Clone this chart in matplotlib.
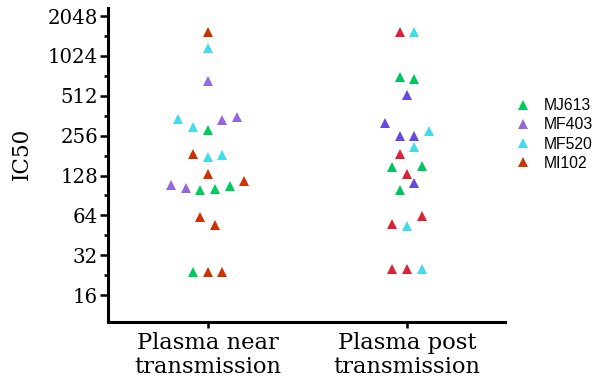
import matplotlib
matplotlib.use("Agg")
import matplotlib.pyplot as plt
from matplotlib.lines import Line2D
from matplotlib.ticker import FixedLocator, NullFormatter

# Categories and strains
groups = ["Plasma near\ntransmission", "Plasma post\ntransmission"]
strains = ["MJ613", "MF403", "MF520", "MI102"]

# IC50 values, per group and strain
near_MJ613 = [284, 100, 102, 107, 24]
near_MF403 = [662, 338, 353, 109, 103]
near_MF520 = [1177, 343, 296, 176, 183]
near_MI102 = [1553, 185, 131, 116, 62, 54, 24, 24]

post_MJ613 = [705, 684, 149, 151, 99]
post_MF403 = [522, 320, 255, 255, 113]
post_MF520 = [1553, 276, 209, 53, 25]
post_MI102 = [1553, 187, 132, 63, 55, 25, 25]

# swarm slot of each point (multiples of the swarm step)
near_MJ613_slot = [0, -1, 1, 3, -2]
near_MF403_slot = [0, 2, 4, -5, -3]
near_MF520_slot = [0, -4, -2, 0, 2]
near_MI102_slot = [0, -2, 0, 5, -1, 1, 0, 2]

post_MJ613_slot = [-1, 1, -2, 2, -1]
post_MF403_slot = [0, -3, -1, 1, 1]
post_MF520_slot = [1, 3, 1, 0, 2]
post_MI102_slot = [-1, -1, 0, 2, -2, -2, 0]

ytick_vals = [16, 32, 64, 128, 256, 512, 1024, 2048]

colors_near = {"MJ613": "#00cc5c", "MF403": "#9468dc", "MF520": "#44dcea", "MI102": "#cc3300"}
colors_post = {"MJ613": "#00c462", "MF403": "#6648dc", "MF520": "#44dcea", "MI102": "#dc2238"}

step = 0.0368

data = [
    (0, colors_near, {"MJ613": (near_MJ613, near_MJ613_slot), "MF403": (near_MF403, near_MF403_slot),
                      "MF520": (near_MF520, near_MF520_slot), "MI102": (near_MI102, near_MI102_slot)}),
    (1, colors_post, {"MJ613": (post_MJ613, post_MJ613_slot), "MF403": (post_MF403, post_MF403_slot),
                      "MF520": (post_MF520, post_MF520_slot), "MI102": (post_MI102, post_MI102_slot)}),
]

fig = plt.figure(figsize=(5.96, 3.90), dpi=100)
ax = fig.add_axes([0.181, 0.174, 0.666, 0.805])

for gx, cols, series in data:
    for s in strains:
        vals, slots = series[s]
        xs = [gx + k * step for k in slots]
        ax.plot(xs, vals, linestyle="none", marker="^", markersize=6.8,
                markeredgewidth=0, color=cols[s])

ax.set_yscale("log", base=2)
ax.set_ylim(10.0, 2350)
ax.set_xlim(-0.5, 1.49)

ax.yaxis.set_major_locator(FixedLocator(ytick_vals))
ax.yaxis.set_minor_locator(FixedLocator([v * 2 ** 0.5 for v in ytick_vals[:-1]]))
ax.yaxis.set_minor_formatter(NullFormatter())
ax.set_yticklabels([str(v) for v in ytick_vals], family="DejaVu Serif", fontsize=14.2)

ax.set_xticks([0, 1])
ax.set_xticklabels(groups, family="DejaVu Serif", fontsize=16.3, linespacing=1.1)
ax.set_ylabel("IC50", family="DejaVu Serif", fontsize=15.5)
ax.yaxis.set_label_coords(-0.19, 0.535)

for side in ["top", "right"]:
    ax.spines[side].set_visible(False)
for side in ["left", "bottom"]:
    ax.spines[side].set_linewidth(2.2)

ax.tick_params(axis="y", which="major", length=6, width=1.8, pad=1)
ax.tick_params(axis="y", which="minor", length=3, width=1.8)
ax.tick_params(axis="x", which="major", length=4, width=1.8, pad=3)

handles = [Line2D([], [], linestyle="none", marker="^", markersize=6.5,
                  markeredgewidth=0, color=colors_near[s]) for s in strains]
fig.legend(handles, strains, loc="upper left", bbox_to_anchor=(0.84, 0.784),
           frameon=False, prop={"family": "Liberation Sans", "size": 11.3},
           handlelength=1.0, handletextpad=0.85, labelspacing=0.26)

fig.savefig("out.png", dpi=100)
